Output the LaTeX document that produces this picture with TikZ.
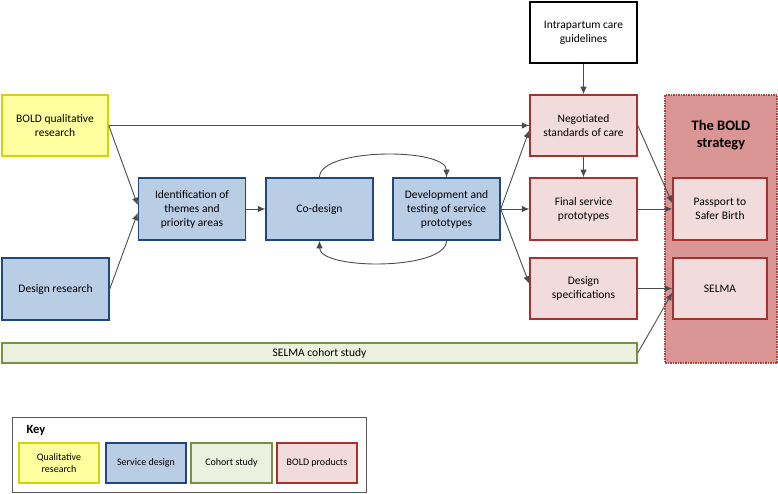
\documentclass[tikz,border=0pt]{standalone}
\usepackage{fontspec}
\setmainfont{Carlito}
\usetikzlibrary{arrows.meta}
\definecolor{qualfill}{HTML}{FFFF9F}
\definecolor{qualline}{HTML}{D4D400}
\definecolor{servfill}{HTML}{B9CDE5}
\definecolor{servline}{HTML}{1F497D}
\definecolor{cohofill}{HTML}{EBF1DE}
\definecolor{coholine}{HTML}{77933C}
\definecolor{prodfill}{HTML}{F2DCDB}
\definecolor{prodline}{HTML}{A8302E}
\definecolor{stratfill}{HTML}{D99694}
\definecolor{stratline}{HTML}{B0403D}
\definecolor{keyline}{HTML}{595959}
\tikzset{
	box/.style={draw, line width=1.5pt, align=center, inner sep=2pt,
		font=\fontsize{11.5}{14}\selectfont},
	qualbox/.style={box, draw=qualline, fill=qualfill, minimum width=106, minimum height=61},
	servbox/.style={box, draw=servline, fill=servfill, minimum width=107, minimum height=62},
	prodbox/.style={box, draw=prodline, fill=prodfill, minimum width=107, minimum height=61},
	plainbox/.style={box, draw=black, fill=white, minimum width=107, minimum height=61},
	keybox/.style={box, minimum width=80, minimum height=40, font=\fontsize{10}{11.5}\selectfont},
	link/.style={draw=black!70, line width=0.9pt, -{Latex[length=7.5pt,width=6.5pt]}},
}
\begin{document}
\begin{tikzpicture}[x=1pt,y=-1pt]
	\useasboundingbox (0,0) rectangle (778,494);
	\node[qualbox] at (55,125.5) (qual) {BOLD qualitative\\research};
	\node[servbox] at (55.5,289) (desres) {Design research};
	\node[servbox] at (192,209) (ident) {Identification of\\themes and\\priority areas};
	\node[servbox] at (319.5,209) (codes) {Co-design};
	\node[servbox] at (446.5,209) (dev) {Development and\\testing of service\\prototypes};
	\node[plainbox] at (583.5,32.5) (guide) {Intrapartum care\\guidelines};
	\node[prodbox] at (583.5,125.5) (nego) {Negotiated\\standards of care};
	\node[prodbox, minimum height=62] at (583.5,209) (final) {Final service\\prototypes};
	\node[prodbox] at (583.5,288.5) (spec) {Design\\specifications};
	\node[box, draw=coholine, fill=cohofill, minimum width=635, minimum height=20] at (319.5,353) (cohort) {SELMA cohort study};
	
	\node[draw=stratline, fill=stratfill, line width=1.5pt, densely dotted, minimum width=112, minimum height=268] at (721,229) (strat) {};
	\node[align=center, font=\fontsize{14.5}{17.5}\selectfont\bfseries] at (721,135) (title) {The BOLD\\strategy};
	\node[prodbox, minimum width=94, minimum height=62] at (720,209) (pass) {Passport to\\Safer Birth};
	\node[prodbox, minimum width=94] at (720,288.5) (selma) {SELMA};
	
	\path[every edge/.style=link] (qual.east) edge (nego.west)
	(qual.east) edge (ident.176)
	(desres.east) edge (ident.184)
	(ident) edge (codes)
	(codes.north) edge[out=90,in=90,looseness=0.6] (dev.north)
	(dev.south) edge[out=-90,in=-90,looseness=0.6] (codes.south)
	(dev.east) edge (nego.185)
	(dev) edge (final)
	(dev.east) edge (spec.175)
	(guide) edge (nego)
	(nego) edge (final)
	(nego.east) edge (pass.173)
	(final) edge (pass)
	(spec) edge (selma)
	(cohort.east) edge (selma.185);
	
	\node[draw=keyline, line width=1pt, minimum width=354, minimum height=75] at (189,454.5) (key) {};
	\node[anchor=west, font=\fontsize{12.5}{14}\selectfont\bfseries] at (23,430) (keyname) {Key};
	\node[keybox, draw=qualline, fill=qualfill] at (59,463) (k1) {Qualitative\\research};
	\node[keybox, draw=servline, fill=servfill] at (146,463) (k2) {Service design};
	\node[keybox, draw=coholine, fill=cohofill, minimum width=81] at (231.5,463) (k3) {Cohort study};
	\node[keybox, draw=prodline, fill=prodfill] at (317,463) (k4) {BOLD products};
\end{tikzpicture}
\end{document}
